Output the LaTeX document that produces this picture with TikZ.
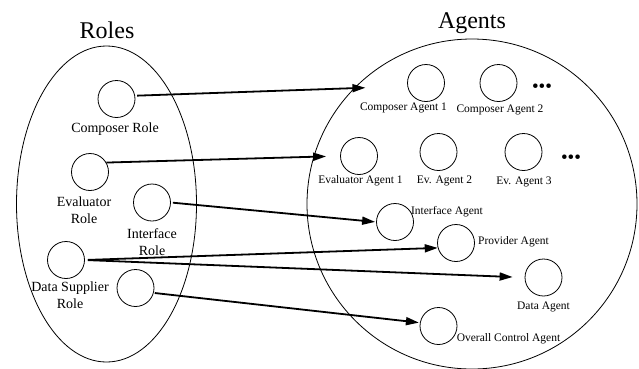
\documentclass[tikz,border=0pt]{standalone}
\usepackage{fontspec}
\setmainfont{Liberation Serif}
\usetikzlibrary{arrows.meta}

\tikzset{
  unit/.style={draw, circle, minimum size=37pt, inner sep=0pt, line width=0.8pt},
  rolelabel/.style={font=\fontsize{14}{17}\selectfont, align=center, inner sep=0pt},
  agentlabel/.style={font=\fontsize{11.5}{14}\selectfont, inner sep=0pt},
  title/.style={font=\fontsize{24}{28}\selectfont, inner sep=0pt},
  more/.style={font=\fontsize{19}{22}\selectfont, inner sep=0pt},
  link/.style={line width=1.8pt, -{Triangle[length=13pt,width=8pt]}},
}

\begin{document}
\begin{tikzpicture}[x=1pt,y=-1pt]
\useasboundingbox (0,0) rectangle (639,368);

% the two groups
\draw[line width=0.8pt] (106.5,204) ellipse [x radius=90, y radius=158];
\draw[line width=0.8pt] (472,204) circle [radius=165];
\node[title] (rolestitle) at (107,30) {Roles};
\node[title] (agentstitle) at (472,23) {Agents};

% roles
\node[unit] (crole) at (116.5,99) {};
\node[unit] (erole) at (90,172) {};
\node[unit] (irole) at (152,202.5) {};
\node[unit] (drole) at (66,260) {};
\node[unit] (urole) at (135.5,288) {};
\node[rolelabel] (croleL) at (115,129) {Composer Role};
\node[rolelabel] (eroleL) at (84,210) {Evaluator\\Role};
\node[rolelabel] (iroleL) at (152,242) {Interface\\Role};
\node[rolelabel] (droleL) at (70,295) {Data Supplier\\Role};

% agents
\node[unit] (cagent1) at (426,83) {};
\node[unit] (cagent2) at (498.5,83) {};
\node[unit] (eagent1) at (359,156) {};
\node[unit] (eagent2) at (438.5,152) {};
\node[unit] (eagent3) at (523.5,152) {};
\node[unit] (iagent) at (395,222) {};
\node[unit] (pagent) at (456,243) {};
\node[unit] (dagent) at (543.5,277.5) {};
\node[unit] (oagent) at (438.5,326) {};
\node[agentlabel] (cagent1L) at (403.5,108) {Composer Agent 1};
\node[agentlabel] (cagent2L) at (500,110) {Composer Agent 2};
\node[agentlabel] (eagent1L) at (360.5,181) {Evaluator Agent 1};
\node[agentlabel] (eagent2L) at (444.5,181) {Ev. Agent 2};
\node[agentlabel] (eagent3L) at (524,182) {Ev. Agent 3};
\node[agentlabel] (iagentL) at (447,212) {Interface Agent};
\node[agentlabel] (pagentL) at (513.5,242) {Provider Agent};
\node[agentlabel] (dagentL) at (543.5,307) {Data Agent};
\node[agentlabel] (oagentL) at (508.5,339) {Overall Control Agent};
\node[more] (moreC) at (542,88) {\textbullet\textbullet\textbullet};
\node[more] (moreE) at (571,159) {\textbullet\textbullet\textbullet};

% role to agent assignments
\draw[link, shorten <=2pt, shorten >=42pt] (crole.10) -- (cagent1.190);
\draw[link, shorten >=14pt] (erole.30) -- (eagent1.west);
\draw[link, shorten <=2pt, shorten >=1pt] (irole.east) -- (iagent.west);
\draw[link, shorten <=3pt] (drole.east) -- (pagent.195);
\draw[link, shorten <=3pt, shorten >=12pt] (drole.east) -- (dagent.west);
\draw[link, shorten <=1pt, shorten >=1pt] (urole.-15) -- (oagent.170);
\end{tikzpicture}
\end{document}
